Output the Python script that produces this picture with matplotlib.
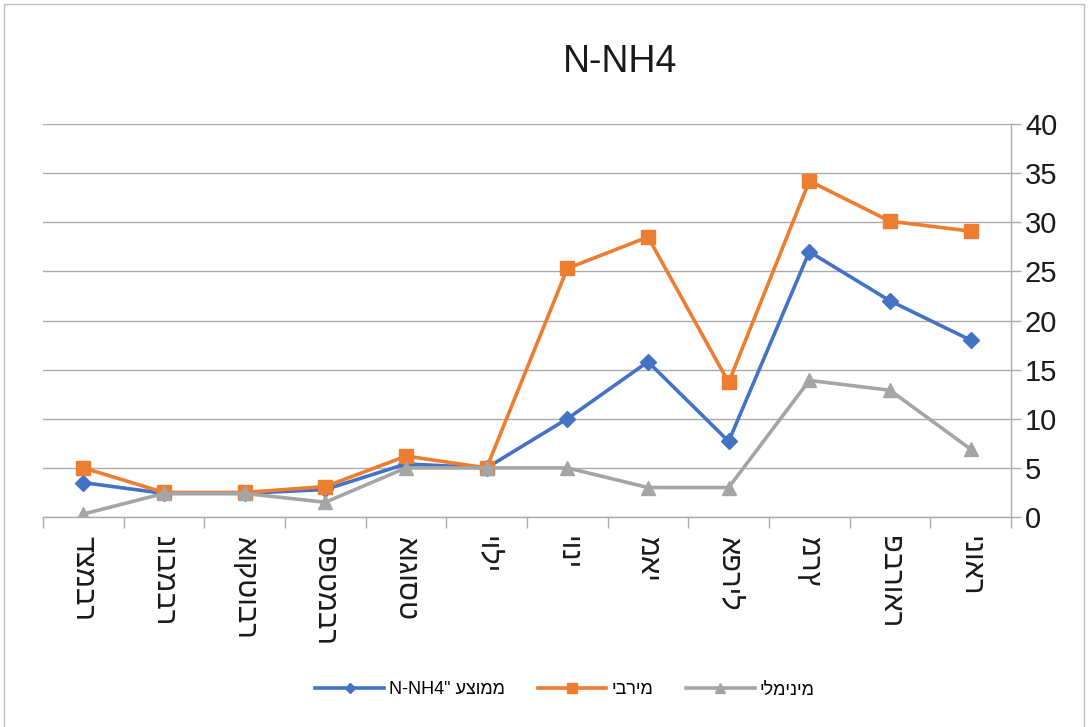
import matplotlib
matplotlib.use("Agg")
import matplotlib.pyplot as plt
from matplotlib.patches import Rectangle
from matplotlib.ticker import FixedLocator, MultipleLocator

plt.rcParams['font.family'] = ['Liberation Sans', 'DejaVu Sans']

# categories, first one drawn at the right (right-to-left chart)
months = ["ינואר", "פברואר", "מרץ", "אפריל", "מאי", "יוני",
          "יולי", "אוגוסט", "ספטמבר", "אוקטובר", "נובמבר", "דצמבר"]
avg_vals = [18.0, 22.0, 27.0, 7.7, 15.8, 10.0, 5.0, 5.4, 2.8, 2.4, 2.4, 3.5]
max_vals = [29.1, 30.1, 34.2, 13.7, 28.5, 25.3, 5.0, 6.2, 3.1, 2.5, 2.5, 5.0]
min_vals = [6.9, 12.9, 13.9, 3.0, 3.0, 5.0, 5.0, 5.0, 1.5, 2.4, 2.4, 0.3]
y_ticks = [0, 5, 10, 15, 20, 25, 30, 35, 40]

# matplotlib has no bidi, so the legend strings are given in visual order
lbl_avg = 'N-NH4" ' + "ממוצע"[::-1]
lbl_max = "מירבי"[::-1]
lbl_min = "מינימלי"[::-1]

grid_col = '#ABABAB'

fig = plt.figure(figsize=(10.9, 7.27), dpi=100)
ax = fig.add_axes([43/1090, 1 - 517/727, (1011 - 43)/1090, (517 - 124)/727])

x = list(range(len(months)))
ax.plot(x, avg_vals, color='#4472C4', lw=2.6, marker='D', ms=8, label=lbl_avg, zorder=3)
ax.plot(x, max_vals, color='#ED7D31', lw=2.6, marker='s', ms=10, label=lbl_max, zorder=3)
ax.plot(x, min_vals, color='#A5A5A5', lw=2.6, marker='^', ms=10, label=lbl_min, zorder=3)

ax.set_xlim(len(months) - 0.5, -0.5)
ax.set_ylim(0, 40)

ax.yaxis.tick_right()
ax.set_yticks(y_ticks)
ax.yaxis.grid(True, color=grid_col, lw=1)
ax.set_axisbelow(True)
ax.tick_params(axis='y', right=True, left=False, length=7, width=1, color=grid_col,
               labelsize=21, pad=3, labelcolor='#1a1a1a')

ax.set_xticks(x)
ax.set_xticklabels(months, rotation=-90, fontsize=21)
ax.xaxis.set_minor_locator(FixedLocator([i - 0.5 for i in range(len(months) + 1)]))
ax.tick_params(axis='x', which='major', length=0, pad=14, labelcolor='#1a1a1a')
ax.tick_params(axis='x', which='minor', length=8, width=1, color=grid_col)

for s in ['left', 'top']:
    ax.spines[s].set_visible(False)
for s in ['bottom', 'right']:
    ax.spines[s].set_color(grid_col)
    ax.spines[s].set_linewidth(1)

fig.text(620/1090, 1 - 62/727, "N-NH4", fontsize=27, ha='center', va='center', color='#1a1a1a')

leg = fig.legend(loc='center', bbox_to_anchor=(565/1090, 1 - 690/727), ncol=3,
                 frameon=False, fontsize=13, handlelength=3.8, handletextpad=0.3,
                 columnspacing=1.8, markerscale=0.7)

fig.patches.append(Rectangle((4/1090, -0.02), 1080/1090, 1.0 - 4/727 + 0.02,
                             transform=fig.transFigure, fill=False,
                             edgecolor='#BFBFBF', lw=1))

fig.savefig("out.png", dpi=100)
